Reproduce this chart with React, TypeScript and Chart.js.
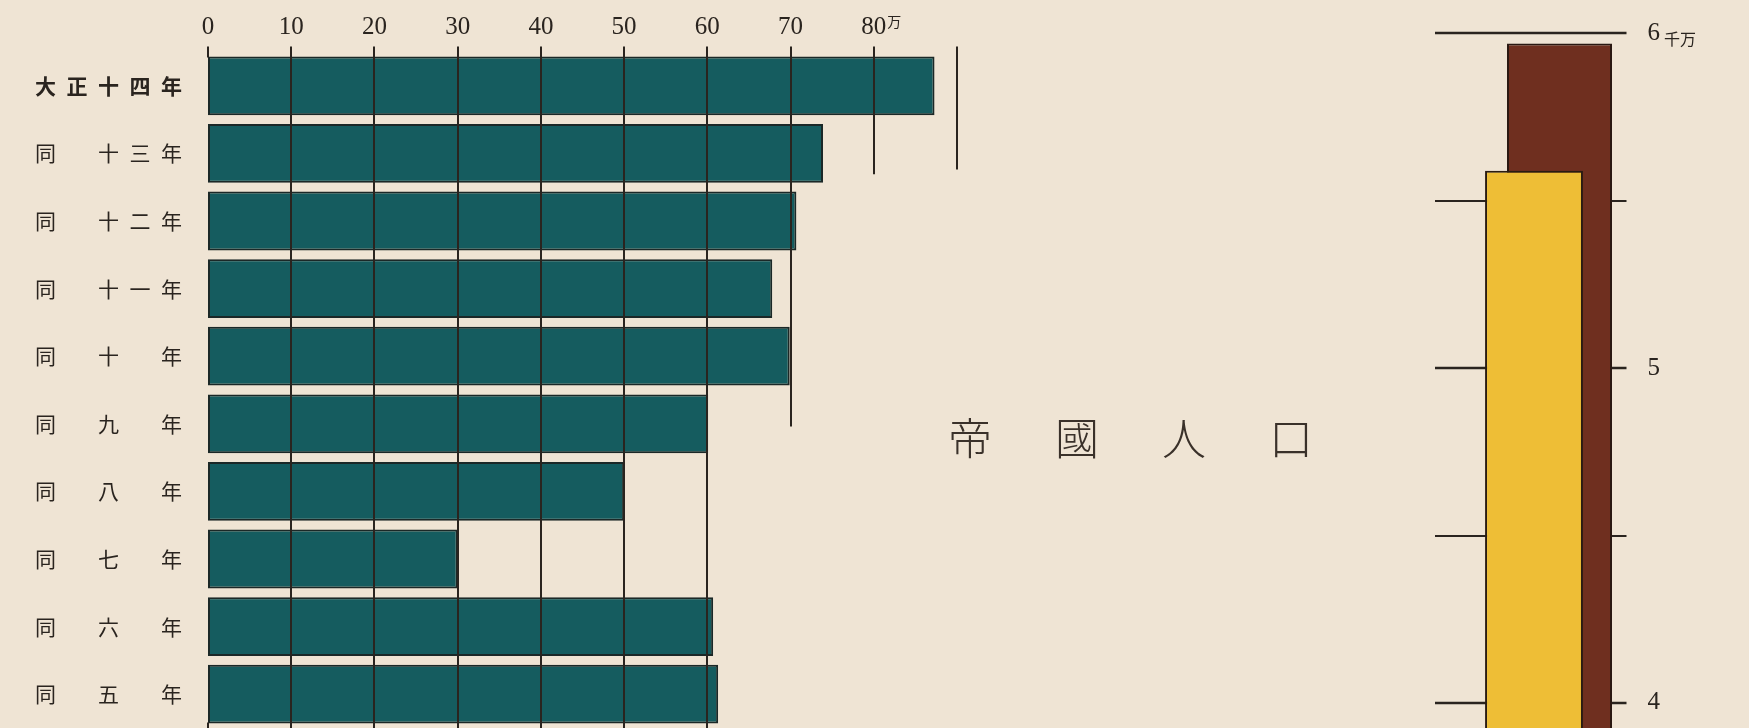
import { useEffect, useRef } from "react";
import { Chart, registerables } from "chart.js";

Chart.register(...registerables);

// ---- left chart: 年別人口増加 (万) ----
const yearLabels = [
  "大正十四年",
  "同　十三年",
  "同　十二年",
  "同　十一年",
  "同　十　年",
  "同　九　年",
  "同　八　年",
  "同　七　年",
  "同　六　年",
  "同　五　年",
];
const increaseValues = [87.3, 73.9, 70.7, 67.8, 69.9, 60.1, 50.0, 30.0, 60.7, 61.3];
const increaseTicks = [0, 10, 20, 30, 40, 50, 60, 70, 80, 90];
const increaseTickLabels = ["0", "10", "20", "30", "40", "50", "60", "70", "80", ""];
const increaseUnit = "万";
// category index (0 = top row) down to which each vertical rule is drawn
const gridReach = [9.57, 9.57, 9.57, 9.57, 9.57, 9.57, 9.57, 5.04, 1.31, 1.24];

// ---- right chart: 帝國人口 (千万) ----
const populationSeries = ["大正九年", "大正十四年"];
const populationValues = [5.59, 5.97];
const populationTicks = [4, 4.5, 5, 5.5, 6];
const populationTickLabels = ["4", "", "5", "", "6"];
const populationUnit = "千万";

const titleText = "帝國人口";

const BG = "#efe4d4";
const INK = "#2a241f";
const TEAL = "#155c5f";
const BAR_EDGE = "#1b2827";
const YELLOW = "#eebe36";
const BROWN = "#6f2f1f";
const SERIF = '"Liberation Serif", "DejaVu Serif", serif';
const CJK = '"Noto Sans CJK JP", "Noto Sans CJK SC", sans-serif';

const spaced = (s: string) => Array.from(s).join("\u2002");

const noEndPadding = (s: any) => {
  s.paddingTop = 0;
  s.paddingBottom = 0;
};

const leftRules = {
  id: "leftRules",
  afterDatasetsDraw(chart: any) {
    const { ctx, scales } = chart;
    const x = scales.x;
    const y = scales.y;
    const seg = (px: number, a: number, b: number) => {
      ctx.beginPath();
      ctx.moveTo(px, y.getPixelForValue(a));
      ctx.lineTo(px, y.getPixelForValue(b));
      ctx.stroke();
    };
    ctx.save();
    ctx.strokeStyle = INK;
    ctx.lineWidth = 2;
    const last = yearLabels.length - 1;
    increaseTicks.forEach((v, i) => {
      const px = Math.round(x.getPixelForValue(v));
      if (v === 0) {
        // the zero rule only shows as tick marks above and below the bars
        seg(px, -0.58, -0.42);
        seg(px, last + 0.42, gridReach[i]);
      } else {
        seg(px, -0.58, gridReach[i]);
      }
    });
    // unit next to the last labelled tick
    const li = increaseTickLabels.length - 2;
    ctx.font = `25px ${SERIF}`;
    const w = ctx.measureText(increaseTickLabels[li]).width;
    const px = x.getPixelForValue(increaseTicks[li]);
    ctx.font = `14px ${CJK}`;
    ctx.fillStyle = INK;
    ctx.textBaseline = "middle";
    ctx.textAlign = "left";
    ctx.fillText(increaseUnit, px + w / 2 + 1, chart.chartArea.top - 30);
    ctx.restore();
  },
};

const rightRules = {
  id: "rightRules",
  beforeDatasetsDraw(chart: any) {
    const { ctx, chartArea } = chart;
    const y = chart.scales.y;
    ctx.save();
    ctx.strokeStyle = INK;
    populationTicks.forEach((v) => {
      const py = Math.round(y.getPixelForValue(v));
      ctx.lineWidth = Number.isInteger(v) ? 2.5 : 2;
      ctx.beginPath();
      ctx.moveTo(chartArea.left - 12, py);
      ctx.lineTo(chartArea.right - 20, py);
      ctx.stroke();
    });
    ctx.restore();
  },
  afterDatasetsDraw(chart: any) {
    const { ctx, chartArea } = chart;
    const y = chart.scales.y;
    const li = populationTicks.length - 1;
    ctx.save();
    ctx.font = `25px ${SERIF}`;
    const w = ctx.measureText(populationTickLabels[li]).width;
    ctx.font = `16px ${CJK}`;
    ctx.fillStyle = INK;
    ctx.textBaseline = "middle";
    ctx.textAlign = "left";
    ctx.fillText(populationUnit, chartArea.right + 1 + w + 4, y.getPixelForValue(populationTicks[li]) + 5);
    ctx.restore();
  },
};

export default function App() {
  const leftRef = useRef<HTMLCanvasElement>(null);
  const rightRef = useRef<HTMLCanvasElement>(null);

  useEffect(() => {
    const left = new Chart(leftRef.current as HTMLCanvasElement, {
      type: "bar",
      data: {
        labels: yearLabels,
        datasets: [
          {
            label: "人口増加",
            data: increaseValues,
            backgroundColor: TEAL,
            borderColor: BAR_EDGE,
            borderWidth: 2,
            borderSkipped: false,
            barPercentage: 0.87,
            categoryPercentage: 1,
          },
        ],
      },
      options: {
        indexAxis: "y",
        responsive: false,
        animation: false,
        layout: { padding: { top: 0, right: 23, bottom: 0, left: 0 } },
        plugins: { legend: { display: false }, tooltip: { enabled: false }, title: { display: false } },
        scales: {
          x: {
            type: "linear",
            position: "top",
            min: 0,
            max: 90,
            grid: { display: false, drawTicks: false },
            border: { display: false },
            ticks: {
              stepSize: 10,
              padding: 10,
              autoSkip: false,
              maxRotation: 0,
              color: INK,
              font: { family: SERIF, size: 25 },
              callback: (v: any) => {
                const i = increaseTicks.indexOf(Number(v));
                return i >= 0 ? increaseTickLabels[i] : "";
              },
            },
            afterFit: (s: any) => {
              s.height = 52;
            },
          },
          y: {
            type: "category",
            grid: { display: false, drawTicks: false },
            border: { display: false },
            ticks: {
              padding: 26,
              autoSkip: false,
              color: INK,
              font: (c: any) => ({ family: CJK, size: 21, weight: c.index === 0 ? "bold" : "normal" }),
              callback: (_v: any, i: number) => spaced(yearLabels[i]),
            },
            afterFit: (s: any) => {
              s.width = 208;
              noEndPadding(s);
            },
          },
        },
      } as any,
      plugins: [leftRules],
    });

    const right = new Chart(rightRef.current as HTMLCanvasElement, {
      type: "bar",
      data: {
        labels: ["帝國人口"],
        datasets: [
          {
            label: populationSeries[0],
            data: [populationValues[0]],
            backgroundColor: YELLOW,
            borderColor: "#2a1c12",
            borderWidth: 2,
            barPercentage: 3.84,
            categoryPercentage: 0.2556,
          },
          {
            label: populationSeries[1],
            data: [populationValues[1]],
            backgroundColor: BROWN,
            borderColor: "#2a1812",
            borderWidth: 2,
            barPercentage: 4.12,
            categoryPercentage: 0.2556,
          },
        ],
      },
      options: {
        responsive: false,
        animation: false,
        layout: { padding: { top: 0, right: 0, bottom: 0, left: 67 } },
        plugins: { legend: { display: false }, tooltip: { enabled: false } },
        scales: {
          x: { display: false },
          y: {
            position: "right",
            min: 3.925,
            max: 6.1,
            grid: { display: false, drawTicks: false },
            border: { display: false },
            ticks: {
              stepSize: 0.5,
              includeBounds: false,
              padding: 1,
              color: INK,
              font: { family: SERIF, size: 25 },
              callback: (v: any) => {
                const i = populationTicks.indexOf(Number(v));
                return i >= 0 ? populationTickLabels[i] : "";
              },
            },
            afterFit: (s: any) => {
              s.width = 102.5;
              noEndPadding(s);
            },
          },
        },
      } as any,
      plugins: [rightRules],
    });

    return () => {
      left.destroy();
      right.destroy();
    };
  }, []);

  return (
    <div
      style={{
        position: "fixed",
        left: 0,
        top: 0,
        width: 1749,
        height: 728,
        background: BG,
        overflow: "hidden",
      }}
    >
      <canvas ref={leftRef} width={980} height={728} style={{ position: "absolute", left: 0, top: 0 }} />
      <div
        style={{
          position: "absolute",
          left: 948,
          top: 414,
          fontFamily: CJK,
          fontSize: 44,
          lineHeight: "44px",
          letterSpacing: 63,
          fontWeight: 300,
          color: "#3a312a",
          whiteSpace: "nowrap",
        }}
      >
        {titleText}
      </div>
      <canvas ref={rightRef} width={369} height={728} style={{ position: "absolute", left: 1380, top: 0 }} />
    </div>
  );
}
